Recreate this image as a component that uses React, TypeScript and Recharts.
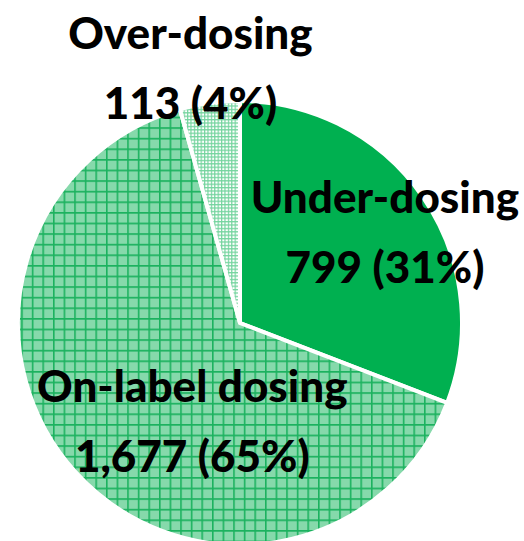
import { PieChart, Pie, Cell } from 'recharts';

const CATEGORIES = ['Under-dosing', 'On-label dosing', 'Over-dosing'];
const COUNTS = [799, 1677, 113];
const PERCENT_LABELS = ['31%', '65%', '4%'];
const COUNT_LABELS = ['799', '1,677', '113'];

const FILLS = ['#00b050', 'url(#onLabelPattern)', 'url(#overPattern)'];

// where each two-line label sits, as polar offset from the pie centre
const LABEL_POLAR = [
  { angle: 32, r: 0.77 },
  { angle: 244, r: 0.49 },
  { angle: 101, r: 1.17 },
];

const data = CATEGORIES.map((name, i) => ({
  name,
  value: COUNTS[i],
  line2: `${COUNT_LABELS[i]} (${PERCENT_LABELS[i]})`,
}));

const RAD = Math.PI / 180;

function renderLabel(props: any) {
  const { cx, cy, outerRadius, index } = props;
  const p = LABEL_POLAR[index];
  const x = cx + Math.cos(p.angle * RAD) * outerRadius * p.r;
  const y = cy - Math.sin(p.angle * RAD) * outerRadius * p.r;
  return (
    <text
      x={x}
      y={y}
      textAnchor="middle"
      fill="#000"
      style={{ fontFamily: 'Lato, "Open Sans", sans-serif', fontWeight: 900, fontSize: 44 }}
    >
      <tspan x={x} y={y - 19}>{data[index].name}</tspan>
      <tspan x={x} y={y + 51}>{data[index].line2}</tspan>
    </text>
  );
}

export default function App() {
  return (
    <div style={{ position: 'absolute', left: 0, top: 0, width: 524, height: 541, background: '#fff' }}>
      <PieChart width={524} height={541} margin={{ top: 0, right: 0, bottom: 0, left: 0 }}>
        <defs>
          <pattern id="onLabelPattern" width="10.6" height="10.6" patternUnits="userSpaceOnUse">
            <rect width="10.6" height="10.6" fill="#86d9ab" />
            <path d="M0 0.8 H10.6 M0.8 0 V10.6" stroke="#1cb25f" strokeWidth="1.6" />
          </pattern>
          <pattern id="overPattern" width="3.4" height="3.4" patternUnits="userSpaceOnUse">
            <rect width="3.4" height="3.4" fill="#ffffff" />
            <path d="M0 0.6 H3.4 M0.6 0 V3.4" stroke="#74d49e" strokeWidth="1.2" />
          </pattern>
        </defs>
        <Pie
          data={data}
          dataKey="value"
          nameKey="name"
          cx={240}
          cy={323}
          outerRadius={222}
          startAngle={90}
          endAngle={-270}
          stroke="#ffffff"
          strokeWidth={4}
          label={renderLabel}
          labelLine={false}
          isAnimationActive={false}
        >
          {data.map((d, i) => (
            <Cell key={d.name} fill={FILLS[i]} />
          ))}
        </Pie>
      </PieChart>
    </div>
  );
}
